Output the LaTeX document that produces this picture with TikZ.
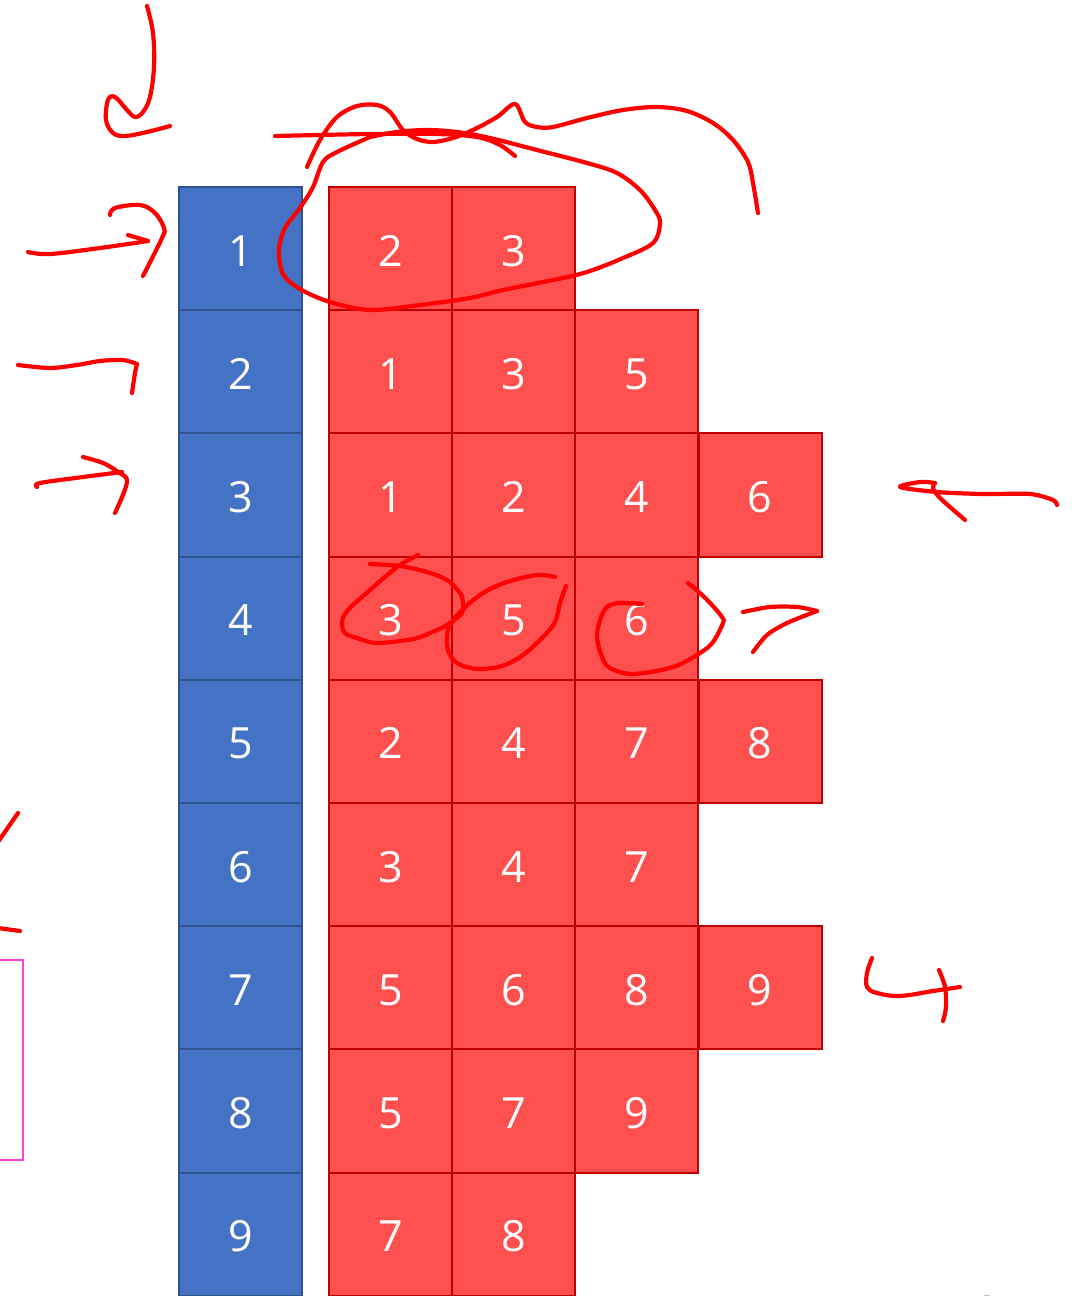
\documentclass[tikz,border=0pt]{standalone}
\usepackage{fontspec}
\setmainfont{Open Sans}
\definecolor{cblue}{HTML}{4472C4}
\definecolor{cbluedk}{HTML}{2F528F}
\definecolor{cred}{HTML}{FF5050}
\definecolor{creddk}{HTML}{C00000}
\definecolor{inkred}{HTML}{FF0000}
\definecolor{pinkbox}{HTML}{FF44D4}
\begin{document}
\begin{tikzpicture}[x=1pt,y=-1pt,
  cellbase/.style={line width=2pt, minimum width=123pt, minimum height=123.2pt, inner sep=0pt, text=white, text height=35pt, text depth=0pt, font=\fontsize{43}{46}\selectfont},
  bluecell/.style={cellbase, draw=cbluedk, fill=cblue},
  redcell/.style={cellbase, draw=creddk, fill=cred},
  handink/.style={draw=inkred, line width=4.2pt, line cap=round, line join=round}]
\clip (0,0) rectangle (1076,1296);
\fill[white] (0,0) rectangle (1076,1296);
% blue column
\foreach \i in {1,...,9}
  \node[bluecell] (b\i) at (240.5,{187+123.2*(\i-0.5)}) {\i};
% red cells
\foreach \r/\lst in {1/{2,3},2/{1,3,5},3/{1,2,4,6},4/{3,5,6},5/{2,4,7,8},6/{3,4,7},7/{5,6,8,9},8/{5,7,9},9/{7,8}}{
  \foreach \v [count=\c] in \lst
    \node[redcell] (r\r-\c) at ({390.5+123.2*(\c-1)},{187+123.2*(\r-0.5)}) {\v};
}
% magenta box at left
\draw[pinkbox, line width=1.6pt] (-10,960) rectangle (23,1160);
% ---- hand strokes ----
% down hook top-left
\draw[handink] plot[smooth, tension=0.6] coordinates {(147,6) (153,33) (154,67) (150,97) (143,112) (135,117) (127,110) (115,97) (108,100) (106,120) (113,133) (125,136) (147,132) (170,126)};
% arrow row 1
\draw[handink] plot[smooth, tension=0.6] coordinates {(28,252) (50,254) (100,248) (148,241)};
\draw[handink] (128,235) -- (148,241);
\draw[handink] plot[smooth, tension=0.6] coordinates {(110,215) (115,208) (140,205) (155,213) (164,228) (162,238) (143,276)};
% row 2 mark
\draw[handink] plot[smooth, tension=0.5] coordinates {(18,365) (50,368) (77,365) (100,361) (123,360) (137,364)};
\draw[handink] plot[smooth, tension=0.5] coordinates {(137,364) (135,373) (132,393)};
% row 3 arrow
\draw[handink] plot[smooth, tension=0.6] coordinates {(37,487) (40,483) (83,477) (122,472)};
\draw[handink] plot[smooth, tension=0.6] coordinates {(83,457) (103,463) (118,472) (127,482) (115,513)};
% scribble above row 1
\draw[handink] plot[smooth, tension=0.55] coordinates {(307,167) (320,140) (337,117) (357,106) (377,105) (390,112) (403,130) (417,139) (433,142) (453,138) (473,130) (497,117) (515,104) (525,122) (537,127) (553,127) (587,118) (623,110) (657,107) (687,111) (713,123) (733,140) (748,162) (753,183) (758,213)};
\draw[handink] plot[smooth, tension=0.55] coordinates {(275,136) (370,134) (437,134) (477,137) (500,145) (515,156)};
% loop around 2 3
\draw[handink] plot[smooth, tension=0.55] coordinates {(370,137) (337,152) (323,162) (313,187) (300,208) (285,228) (279,250) (283,274) (300,289) (330,302) (370,310) (420,305) (470,298) (503,290) (553,280) (587,272) (623,258) (653,243) (660,223) (655,210) (640,190) (617,173) (587,163) (537,150) (490,138) (457,132) (427,130) (397,132) (370,137)};
% circle around 3 (row 4)
\draw[handink] plot[smooth, tension=0.55] coordinates {(418,555) (397,567) (370,590) (348,610) (342,622) (345,633) (357,638) (377,643) (413,639) (430,633) (447,625) (462,613) (463,603) (460,593) (447,580) (427,572) (400,566) (370,564)};
% circle around 5
\draw[handink] plot[smooth, tension=0.55] coordinates {(555,577) (537,575) (507,582) (483,593) (460,612) (448,630) (448,650) (457,663) (477,669) (502,666) (523,655) (543,637) (555,622) (560,603) (566,586)};
% circle around 6
\draw[handink] plot[smooth, tension=0.55] coordinates {(642,604) (620,603) (607,607) (600,620) (597,637) (602,657) (610,668) (633,674) (673,667) (700,653) (713,642) (723,623) (722,617) (712,605) (700,593) (688,583)};
% seven
\draw[handink] plot[smooth, tension=0.5] coordinates {(743,612) (770,607) (797,607) (817,611)};
\draw[handink] plot[smooth, tension=0.5] coordinates {(817,611) (787,623) (767,635) (753,652)};
% right arrow row 3
\draw[handink] plot[smooth, tension=0.5] coordinates {(1057,505) (1053,500) (1030,494) (983,494) (937,492) (900,487) (920,482) (935,483)};
\draw[handink] plot[smooth, tension=0.5] coordinates {(935,483) (933,488) (940,498) (965,520)};
% left bottom marks
\draw[handink] (18,813) -- (-2,842);
\draw[handink] (-2,928) -- (20,931);
% four at row 7
\draw[handink] plot[smooth, tension=0.6] coordinates {(872,958) (867,973) (867,987) (877,993) (900,996) (933,991) (960,987)};
\draw[handink] plot[smooth, tension=0.6] coordinates {(939,970) (945,987) (946,1007) (943,1021)};
% tiny gray mark bottom right
\draw[gray!50, line width=1pt] (984,1295) -- (990,1295);
\end{tikzpicture}
\end{document}
